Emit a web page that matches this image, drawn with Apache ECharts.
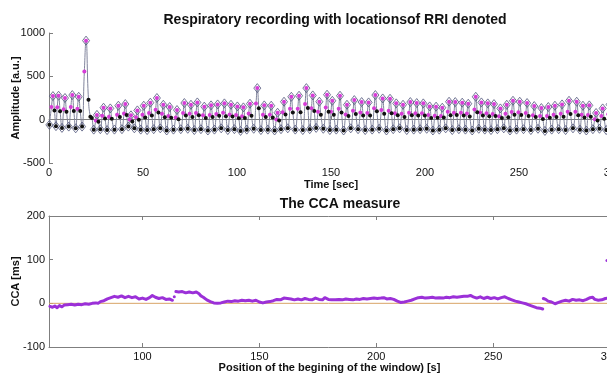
<!DOCTYPE html>
<html>
<head>
<meta charset="utf-8">
<script src="https://cdn.jsdelivr.net/npm/echarts@6/dist/echarts.min.js"></script>
<style>
  html, body { margin: 0; padding: 0; background: #fff; }
  #main { width: 607px; height: 373px; }
</style>
</head>
<body>
<div id="main"></div>
<script>
// respiratory signal: peaks / troughs (time [sec], amplitude [a.u.])
var peakT = [2.1, 5.1, 8.5, 12.4, 15.8, 19.7, 25.5, 29.0, 32.6, 36.9, 40.6, 43.6, 47.0, 50.4, 53.9, 57.4, 60.8, 64.2, 68.1, 72.0,
  75.5, 78.9, 82.6, 86.2, 89.7, 93.3, 96.8, 100.2, 103.4, 106.9, 110.8, 114.5, 118.2, 121.6, 125.0, 128.9, 133.0, 136.9, 140.3, 143.8,
  147.9, 150.7, 154.8, 158.5, 162.4, 166.3, 170.0, 173.6, 177.5, 181.4, 184.7, 188.3, 192.2, 195.6, 199.1, 202.5, 205.9, 209.2, 212.8, 216.1,
  219.8, 223.0, 227.0, 230.0, 233.4, 236.7, 240.1, 243.5, 246.8, 250.4, 254.3, 258.1, 261.9, 265.6, 269.1, 272.9, 276.6, 280.7, 284.0, 287.4,
  291.0, 294.5, 298.2, 301.5];
var peakV = [272, 276, 250, 284, 264, 912, 55, 138, 130, 161, 180, 50, 107, 161, 196, 250, 172, 146, 111, 192,
  172, 199, 150, 165, 176, 188, 172, 153, 142, 184, 364, 165, 161, 80, 207, 264, 276, 364, 280, 207,
  288, 218, 276, 172, 226, 203, 199, 284, 245, 241, 188, 172, 203, 192, 188, 153, 150, 138, 207, 203,
  196, 184, 264, 199, 188, 180, 130, 172, 218, 207, 192, 157, 134, 146, 161, 176, 218, 207, 161, 165,
  77, 130, 175, 150];
var troughT = [0.2, 3.7, 6.9, 10.5, 14.2, 17.6, 23.8, 27.3, 30.9, 34.8, 38.8, 42.2, 45.4, 48.8, 52.2, 55.7, 59.2, 62.6, 66.2, 70.1,
  73.8, 77.3, 80.8, 84.5, 88.0, 91.6, 95.1, 98.6, 101.9, 105.2, 108.9, 112.7, 116.4, 120.0, 123.4, 127.0, 131.0, 135.0, 138.7, 142.1,
  145.9, 149.4, 152.8, 156.7, 160.5, 164.4, 168.2, 171.9, 175.6, 179.5, 183.1, 186.5, 190.3, 194.0, 197.4, 200.9, 204.2, 207.6, 211.0, 214.5,
  218.0, 221.5, 225.1, 228.6, 231.8, 235.1, 238.5, 241.9, 245.2, 248.7, 252.4, 256.3, 260.1, 263.8, 267.4, 271.1, 274.8, 278.7, 282.4, 285.8,
  289.3, 292.8, 296.4, 300.0, 303.0];
var troughV = [-60, -75, -95, -80, -100, -80, -115, -110, -120, -115, -110, -80, -100, -115, -120, -110, -100, -125, -115, -110,
  -105, -120, -110, -125, -115, -100, -120, -110, -130, -115, -105, -120, -115, -125, -110, -100, -115, -120, -110, -95,
  -105, -120, -115, -125, -100, -110, -120, -115, -105, -125, -110, -100, -120, -115, -110, -105, -125, -115, -100, -120,
  -110, -115, -125, -105, -115, -120, -110, -100, -125, -115, -110, -120, -105, -130, -115, -110, -120, -100, -115, -125,
  -110, -105, -120, -115, -110];
// RRI locations on the rising edge (magenta) and falling edge (black)
var riseT = [1.3, 4.4, 7.8, 11.6, 15.1, 18.8, 24.9, 28.3, 31.9, 36.2, 39.9, 42.9, 46.3, 49.7, 53.2, 56.7, 60.1, 63.5, 67.4, 71.3,
  74.8, 78.2, 81.9, 85.5, 89.0, 92.6, 96.1, 99.5, 102.7, 106.2, 110.1, 113.8, 117.5, 120.9, 124.3, 128.2, 132.3, 136.2, 139.6, 143.1,
  147.2, 150.0, 154.1, 157.8, 161.7, 165.6, 169.3, 172.9, 176.8, 180.7, 184.0, 187.6, 191.5, 194.9, 198.4, 201.8, 205.2, 208.5, 212.1, 215.4,
  219.1, 222.3, 226.3, 229.3, 232.7, 236.0, 239.4, 242.8, 246.1, 249.7, 253.6, 257.4, 261.2, 264.9, 268.4, 272.2, 275.9, 280.0, 283.3, 286.7,
  290.3, 293.8, 297.5, 300.8];
var riseV = [146, 143, 119, 146, 126, 555, -10, 44, 35, 56, 70, 1, 28, 56, 76, 113, 69, 43, 25, 77,
  67, 78, 51, 55, 65, 79, 61, 53, 39, 70, 186, 57, 56, 2, 87, 126, 127, 180, 132, 92,
  139, 90, 127, 59, 102, 84, 78, 132, 112, 102, 75, 69, 80, 75, 75, 55, 46, 42, 90, 80,
  80, 70, 116, 83, 73, 66, 39, 69, 88, 85, 77, 52, 43, 41, 56, 67, 90, 90, 56, 55,
  6, 41, 63, 49];
var fallT = [2.9, 5.9, 9.3, 13.2, 16.6, 21.0, 22.0, 22.8, 26.3, 29.8, 33.4, 37.7,
  41.3, 44.3, 47.8, 51.2, 54.7, 58.2, 61.6, 65.0, 68.9, 72.8,
  76.3, 79.7, 83.4, 87.0, 90.5, 94.1, 97.6, 101.0, 104.2, 107.7,
  111.6, 115.3, 119.0, 122.4, 125.8, 129.7, 133.8, 137.7, 141.1, 144.6,
  148.7, 151.5, 155.6, 159.3, 163.2, 167.1, 170.8, 174.4, 178.3, 182.2,
  185.5, 189.1, 193.0, 196.4, 199.9, 203.3, 206.7, 210.0, 213.6, 216.9,
  220.6, 223.8, 227.8, 230.8, 234.2, 237.5, 240.9, 244.3, 247.6, 251.2,
  255.1, 258.9, 262.7, 266.4, 269.9, 273.7, 277.4, 281.5, 284.8, 288.2,
  291.8, 295.3, 299.0, 302.3];
var fallV = [105, 98, 92, 100, 99, 230, 35, 20, -24, 14, 12, 31,
  55, -22, 0, 26, 49, 82, 29, 21, 5, 49,
  32, 51, 18, 31, 44, 40, 37, 17, 19, 45,
  132, 31, 24, -11, 60, 82, 86, 136, 100, 57,
  92, 58, 84, 41, 65, 48, 48, 97, 67, 73,
  50, 32, 50, 47, 47, 20, 23, 24, 50, 53,
  47, 36, 87, 48, 40, 41, 20, 29, 58, 55,
  42, 31, 7, 21, 31, 34, 65, 52, 24, 33,
  -10, 10, 36, 25];

// CCA measure (null = gap in the trace)
var ccaX = [60.4, 61.5, 62.5, 63.5, 64.5, 65.5, 66.5, 68, 69.5, 71, 72.5, 74, 75.5, 77, 78.5, 80, 81, 82, 83.5, 85,
  86.5, 88, 89.5, 91, 92.5, 94, 95.5, 97, 98.5, 100, 101.5, 103, 104.2, 105.5, 107, 108.5, 110, 111.5, 112.8, null,
  114.3, 115.5, 117, 118.5, 120, 121.5, 123, 124.2, 125, 126, 127.5, 129, 130.5, 132, 133.5, 135, 136.5, 138, 139.5, 141,
  142.5, 144, 145.5, 147, 148.5, 150, 151.5, 153, 154.5, 156, 157.5, 159, 160.5, 162, 163.5, 165, 166.5, 168, 169.5, 171,
  172.5, 174, 175.5, 177, 178, 179.5, 181, 182.5, 184, 185.5, 187, 188.5, 190, 191.5, 193, 194.5, 196, 197.5, 199, 200.5,
  202, 203.2, 204.5, 206, 207.5, 209, 210.4, 212, 213.5, 215, 216.5, 218, 219.5, 221, 222.5, 224, 225.5, 227, 228.5, 230,
  231.5, 233, 234.5, 236, 237.5, 239, 240.3, 241.5, 243, 244.5, 246, 247.5, 249, 250.5, 252, 253.5, 255, 256.5, 258, 259.5,
  261, 262.5, 264, 265.5, 267, 268.5, 270, 271.2, null,
  271.5, 272.5, 273.5, 275, 276.5, 278, 279.5, 281, 282.5, 284, 285.5, 287, 288.5, 290, 291.5, 292.5, 293.5, 295, 296.5, 298, 299.5];
var ccaY = [-7, -9, -6, -10, -5, -8, -4, -3, -2, -4, -2, -3, -1, -2, 0, 1, 0, 4, 6, 10,
  13, 16, 14, 17, 13, 16, 13, 15, 10, 12, 9, 13, 18, 14, 11, 13, 9, 10, 7, null,
  27, 26, 27, 24, 26, 24, 26, 22, 17, 14, 8, 4, 1, 0, 1, 3, 5, 4, 6, 5,
  7, 6, 7, 5, 7, 3, 1, 3, 4, 6, 9, 8, 12, 11, 10, 8, 10, 8, 11, 9,
  8, 12, 9, 8, 13, 9, 8, 8, 9, 8, 10, 9, 8, 10, 9, 11, 10, 11, 12, 11,
  12, 13, 10, 11, 9, 5, 2, 3, 5, 7, 10, 13, 14, 12, 13, 14, 12, 13, 12, 14,
  13, 15, 14, 15, 16, 16, 18, 15, 12, 15, 11, 14, 11, 13, 10, 13, 15, 11, 8, 5,
  3, 1, -1, -4, -7, -10, -11, -13, null,
  11, 9, 5, 3, -1, 2, 5, 7, 5, 9, 7, 8, 6, 9, 13, 14, 9, 7, 8, 11, 12];
var ccaDotX = [113.6, 298.7];
var ccaDotY = [15, 98];
var zeroX = [60, 300];
var zeroY = [0, 0];

var axisGray = '#7f7f7f';
var txt = '#111';
var font = 'Liberation Sans, Arial, sans-serif';

function pairs(xs, ys) {
  var out = [];
  for (var i = 0; i < xs.length; i++) {
    out.push(xs[i] === null ? ['-', '-'] : [xs[i], ys[i]]);
  }
  return out;
}
function plain(v) { return String(v); }

var sigPts = pairs(troughT, troughV).concat(pairs(riseT, riseV), pairs(peakT, peakV), pairs(fallT, fallV));
sigPts.sort(function (a, b) { return a[0] - b[0]; });

var chart = echarts.init(document.getElementById('main'));

var nameStyle = { fontSize: 11, fontWeight: 'bold', color: txt };

var option = {
  animation: false,
  backgroundColor: '#fff',
  textStyle: { fontFamily: font },
  title: [
    {
      text: 'Respiratory recording with locationsof RRI denoted',
      left: 330, top: 8, textAlign: 'center',
      textStyle: { fontSize: 14, fontWeight: 'bold', color: txt, fontFamily: font }
    },
    {
      text: 'The CCA measure',
      left: 335, top: 192, textAlign: 'center',
      textStyle: { fontSize: 14, fontWeight: 'bold', color: txt, fontFamily: font }
    }
  ],
  grid: [
    { left: 49, top: 33, width: 564, height: 130, containLabel: false, outerBoundsMode: 'none' },
    { left: 49, top: 216, width: 561, height: 131, containLabel: false, outerBoundsMode: 'none' }
  ],
  xAxis: [
    {
      gridIndex: 0, type: 'value', min: 0, max: 300, interval: 50,
      name: 'Time [sec]', nameLocation: 'middle', nameGap: 16, nameMoveOverlap: false,
      nameTextStyle: nameStyle,
      axisLine: { lineStyle: { color: axisGray } },
      axisTick: { inside: true, length: 4, lineStyle: { color: axisGray } },
      axisLabel: { fontSize: 11, color: txt, margin: 4, formatter: plain },
      splitLine: { show: false }
    },
    {
      gridIndex: 1, type: 'value', min: 60, max: 300,
      name: 'Position of the begining of the window) [s]', nameLocation: 'middle', nameGap: 15, nameMoveOverlap: false,
      nameTextStyle: nameStyle,
      axisLine: { onZero: false, lineStyle: { color: axisGray } },
      axisTick: { inside: true, length: 4, customValues: [100, 150, 200, 250, 300], lineStyle: { color: axisGray } },
      axisLabel: { fontSize: 11, color: txt, margin: 4, formatter: plain, customValues: [100, 150, 200, 250, 300] },
      splitLine: { show: false }
    },
    {
      gridIndex: 1, type: 'value', min: 60, max: 300, position: 'top',
      axisLine: { onZero: false, lineStyle: { color: axisGray } },
      axisTick: { inside: true, length: 4, customValues: [100, 150, 200, 250, 300], lineStyle: { color: axisGray } },
      axisLabel: { show: false },
      splitLine: { show: false }
    }
  ],
  yAxis: [
    {
      gridIndex: 0, type: 'value', min: -500, max: 1000, interval: 500,
      name: 'Amplitude [a.u.]', nameLocation: 'middle', nameGap: 28, nameMoveOverlap: false,
      nameTextStyle: nameStyle,
      axisLine: { show: true, onZero: false, lineStyle: { color: axisGray } },
      axisTick: { show: true, inside: true, length: 4, lineStyle: { color: axisGray } },
      axisLabel: { fontSize: 11, color: txt, margin: 4, formatter: plain },
      splitLine: { show: false }
    },
    {
      gridIndex: 1, type: 'value', min: -100, max: 200, interval: 100,
      name: 'CCA [ms]', nameLocation: 'middle', nameGap: 28, nameMoveOverlap: false,
      nameTextStyle: nameStyle,
      axisLine: { show: true, onZero: false, lineStyle: { color: axisGray } },
      axisTick: { show: true, inside: true, length: 4, lineStyle: { color: axisGray } },
      axisLabel: { fontSize: 11, color: txt, margin: 4, formatter: plain },
      splitLine: { show: false }
    }
  ],
  series: [
    {
      name: 'signal', type: 'line', xAxisIndex: 0, yAxisIndex: 0,
      data: sigPts, smooth: 0.5, showSymbol: false,
      lineStyle: { color: '#80849c', width: 1 }, z: 1
    },
    {
      name: 'extrema', type: 'scatter', xAxisIndex: 0, yAxisIndex: 0,
      data: pairs(peakT, peakV).concat(pairs(troughT, troughV)),
      symbol: 'diamond', symbolSize: [7, 9],
      itemStyle: { color: 'transparent', borderColor: '#50547a', borderWidth: 0.8, opacity: 1 }, z: 2
    },
    {
      name: 'RRI insp', type: 'scatter', xAxisIndex: 0, yAxisIndex: 0,
      data: pairs(peakT, peakV).concat(pairs(riseT, riseV)),
      symbolSize: 4, itemStyle: { color: '#d63cd6', opacity: 1 }, z: 3
    },
    {
      name: 'RRI exp', type: 'scatter', xAxisIndex: 0, yAxisIndex: 0,
      data: pairs(troughT, troughV).concat(pairs(fallT, fallV)),
      symbolSize: 4, itemStyle: { color: '#111', opacity: 1 }, z: 3
    },
    {
      name: 'zero', type: 'line', xAxisIndex: 1, yAxisIndex: 1,
      data: pairs(zeroX, zeroY), showSymbol: false,
      lineStyle: { color: '#d8a466', width: 1 }, z: 1
    },
    {
      name: 'CCA', type: 'line', xAxisIndex: 1, yAxisIndex: 1,
      data: pairs(ccaX, ccaY), showSymbol: false, connectNulls: false,
      lineStyle: { color: '#9b30d8', width: 3, join: 'round', cap: 'round' }, z: 2
    },
    {
      name: 'CCA dots', type: 'scatter', xAxisIndex: 1, yAxisIndex: 1,
      data: pairs(ccaDotX, ccaDotY), symbolSize: 3,
      itemStyle: { color: '#9b30d8', opacity: 1 }, z: 2
    }
  ]
};

chart.setOption(option);
</script>
</body>
</html>
